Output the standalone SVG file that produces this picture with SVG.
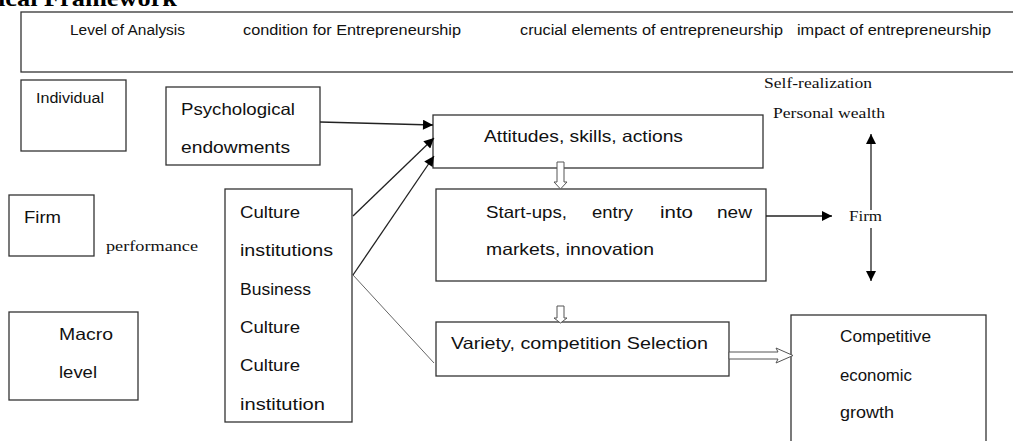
<svg xmlns="http://www.w3.org/2000/svg" width="1013" height="441" viewBox="0 0 1013 441">
<style>
.box{fill:#fff;stroke:#333;stroke-width:1.3}
.t{font-family:"Liberation Sans",Arial,sans-serif;fill:#111}
.s{font-size:14px}
.m{font-size:16.5px}
.tm{font-family:"Liberation Serif","Times New Roman",serif;fill:#111;font-size:15px}
.ln{stroke:#222;stroke-width:1.3;fill:none}
.hol{fill:#fff;stroke:#555;stroke-width:1}
</style>
<defs>
<marker id="ah" viewBox="0 0 10 10" refX="10" refY="5" markerWidth="12" markerHeight="10" markerUnits="userSpaceOnUse" orient="auto"><path d="M0,0 L10,5 L0,10 Z" fill="#000"/></marker>
</defs>
<rect width="1013" height="441" fill="#fff"/>
<text x="-2" y="6" style="font-family:'Liberation Serif','Times New Roman',serif;font-weight:bold;font-size:24px" fill="#000" textLength="179" lengthAdjust="spacingAndGlyphs">ical Framework</text>

<g id="header">
<rect class="box" x="21" y="12" width="1010" height="60"/>
<text class="t s" x="70" y="35" textLength="115" lengthAdjust="spacingAndGlyphs">Level of Analysis</text>
<text class="t s" x="243" y="35" textLength="218" lengthAdjust="spacingAndGlyphs">condition for Entrepreneurship</text>
<text class="t s" x="520" y="35" textLength="263" lengthAdjust="spacingAndGlyphs">crucial elements of entrepreneurship</text>
<text class="t s" x="797" y="35" textLength="194" lengthAdjust="spacingAndGlyphs">impact of entrepreneurship</text>
</g>

<g id="individual">
<rect class="box" x="21" y="80" width="105" height="71"/>
<text class="t s" x="36" y="103" textLength="68" lengthAdjust="spacingAndGlyphs">Individual</text>
</g>
<g id="firm-level">
<rect class="box" x="9" y="195" width="85" height="61"/>
<text class="t m" x="24" y="223" textLength="37" lengthAdjust="spacingAndGlyphs">Firm</text>
</g>
<text class="tm" x="106" y="251" textLength="92" lengthAdjust="spacingAndGlyphs">performance</text>
<g id="macro">
<rect class="box" x="9" y="312" width="129" height="88"/>
<text class="t m" x="59" y="340" textLength="54" lengthAdjust="spacingAndGlyphs">Macro</text>
<text class="t m" x="59" y="378" textLength="38" lengthAdjust="spacingAndGlyphs">level</text>
</g>

<g id="psychological">
<rect class="box" x="166" y="87" width="154" height="78"/>
<text class="t m" x="181" y="115" textLength="114" lengthAdjust="spacingAndGlyphs">Psychological</text>
<text class="t m" x="181" y="153" textLength="109" lengthAdjust="spacingAndGlyphs">endowments</text>
</g>

<g id="culture">
<rect class="box" x="225" y="189" width="127" height="233"/>
<text class="t m" x="240" y="218" textLength="60" lengthAdjust="spacingAndGlyphs">Culture</text>
<text class="t m" x="240" y="256" textLength="93" lengthAdjust="spacingAndGlyphs">institutions</text>
<text class="t m" x="240" y="295" textLength="71" lengthAdjust="spacingAndGlyphs">Business</text>
<text class="t m" x="240" y="333" textLength="60" lengthAdjust="spacingAndGlyphs">Culture</text>
<text class="t m" x="240" y="371" textLength="60" lengthAdjust="spacingAndGlyphs">Culture</text>
<text class="t m" x="240" y="410" textLength="85" lengthAdjust="spacingAndGlyphs">institution</text>
</g>

<g id="attitudes">
<rect class="box" x="433" y="115" width="330" height="53"/>
<text class="t m" x="484" y="142" textLength="199" lengthAdjust="spacingAndGlyphs">Attitudes, skills, actions</text>
</g>

<g id="startups">
<rect class="box" x="436" y="189" width="330" height="92"/>
<text class="t m" x="486" y="218" textLength="81" lengthAdjust="spacingAndGlyphs">Start-ups,</text>
<text class="t m" x="592" y="218" textLength="41" lengthAdjust="spacingAndGlyphs">entry</text>
<text class="t m" x="660" y="218" textLength="33" lengthAdjust="spacingAndGlyphs">into</text>
<text class="t m" x="717" y="218" textLength="35" lengthAdjust="spacingAndGlyphs">new</text>
<text class="t m" x="486" y="255" textLength="168" lengthAdjust="spacingAndGlyphs">markets, innovation</text>
</g>

<g id="variety">
<rect class="box" x="436" y="322" width="293" height="54"/>
<text class="t m" x="451" y="349" textLength="257" lengthAdjust="spacingAndGlyphs">Variety, competition Selection</text>
</g>

<g id="competitive">
<rect class="box" x="791" y="315" width="195" height="140"/>
<text class="t m" x="840" y="342" textLength="91" lengthAdjust="spacingAndGlyphs">Competitive</text>
<text class="t m" x="840" y="381" textLength="72" lengthAdjust="spacingAndGlyphs">economic</text>
<text class="t m" x="840" y="418" textLength="54" lengthAdjust="spacingAndGlyphs">growth</text>
</g>

<g id="impact-labels">
<text class="tm" x="764" y="88" textLength="108" lengthAdjust="spacingAndGlyphs">Self-realization</text>
<text class="tm" x="773" y="118" textLength="112" lengthAdjust="spacingAndGlyphs">Personal wealth</text>
<text class="tm" x="849" y="221" style="font-size:14px" textLength="33" lengthAdjust="spacingAndGlyphs">Firm</text>
</g>

<g id="connectors">
<line class="ln" x1="320" y1="122" x2="433" y2="125" marker-end="url(#ah)"/>
<line class="ln" x1="353" y1="216" x2="434" y2="138" marker-end="url(#ah)"/>
<line class="ln" x1="353" y1="275" x2="434" y2="156" marker-end="url(#ah)"/>
<line x1="353" y1="275" x2="434" y2="363" stroke="#666" stroke-width="1"/>
<line class="ln" x1="766" y1="216" x2="832" y2="216" marker-end="url(#ah)"/>
<line class="ln" x1="871" y1="210" x2="871" y2="134" marker-end="url(#ah)"/>
<line class="ln" x1="871" y1="228" x2="871" y2="281" marker-end="url(#ah)"/>
<path class="hol" d="M557,162 L564,162 L564,182 L567,182 L560.5,189 L554,182 L557,182 Z"/>
<path class="hol" d="M557,306 L564,306 L564,318 L567,318 L560.5,323 L554,318 L557,318 Z"/>
<path class="hol" d="M729,352 L778,352 L776,348 L793,355.5 L776,363 L778,359 L729,359 Z"/>
</g>
</svg>
